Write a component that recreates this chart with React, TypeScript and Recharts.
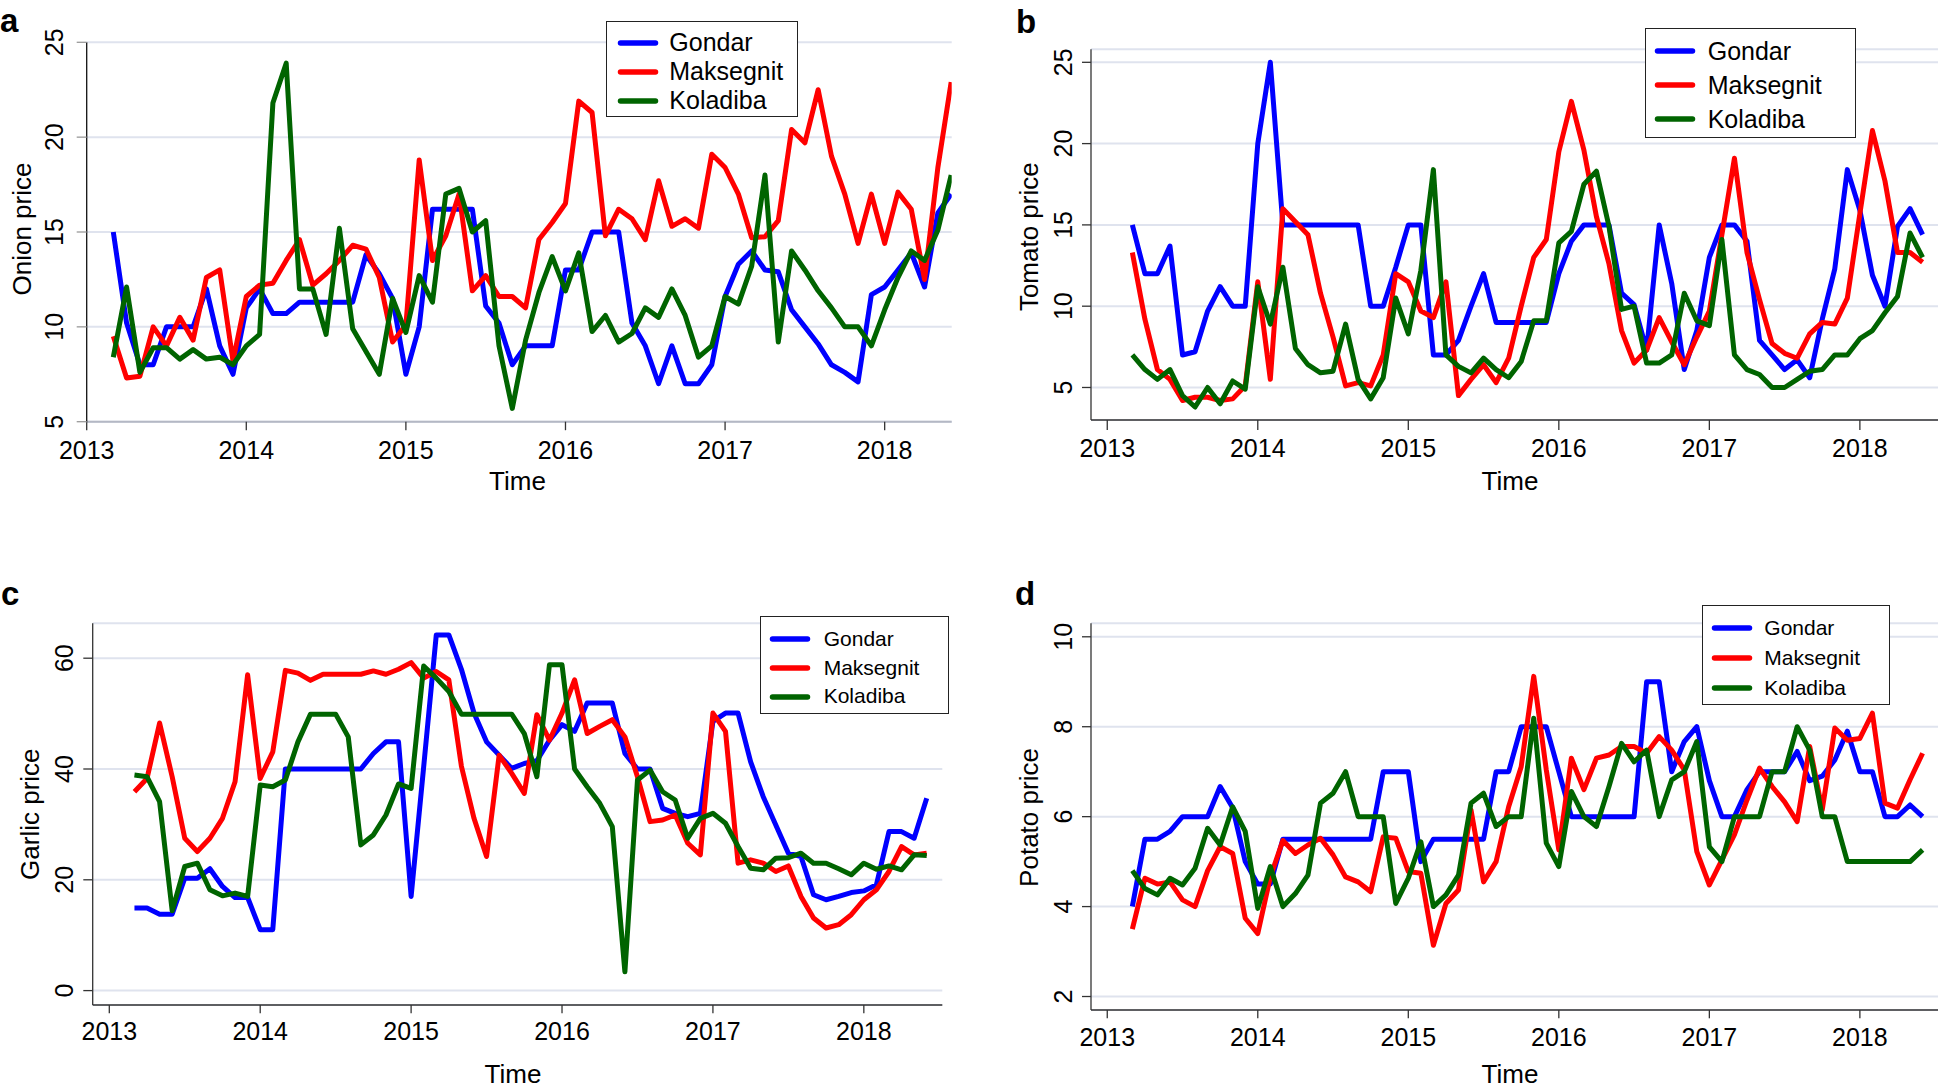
import React from 'react';
import { CartesianGrid, Legend, Line, LineChart, XAxis, YAxis } from 'recharts';

const FONT = '"Liberation Sans", Arial, Helvetica, sans-serif';
const BLUE = '#0000ff';
const RED = '#ff0000';
const GREEN = '#006400';
const GRID = '#dfe3ee';

// monthly observations, March 2013 .. June 2018
const MONTHS = Array.from({ length: 64 }, (_, i) => 2013 + (2 + i) / 12);
const YEAR_TICKS = [2013, 2014, 2015, 2016, 2017, 2018];

const SERIES = [
  { key: 'gondar', name: 'Gondar', color: BLUE },
  { key: 'maksegnit', name: 'Maksegnit', color: RED },
  { key: 'koladiba', name: 'Koladiba', color: GREEN },
];

// a: onion
const ONION_GONDAR = [
  15, 10.2, 8, 8, 10, 10, 10, 12, 9, 7.5, 11, 12, 10.7, 10.7, 11.3, 11.3, 11.3, 11.3, 11.3, 13.8,
  12.8, 11.5, 7.5, 10, 16.2, 16.2, 16.2, 16.2, 11.1, 10.2, 8, 9, 9, 9, 13, 13, 15, 15, 15, 10.2,
  9, 7, 9, 7, 7, 8, 11.6, 13.3, 14, 13, 12.9, 10.9, 10, 9.1, 8, 7.6, 7.1, 11.7, 12.1, 13,
  13.9, 12.1, 16, 17,
];
const ONION_MAKSEGNIT = [
  9.5, 7.3, 7.4, 10, 9, 10.5, 9.3, 12.6, 13, 8.2, 11.6, 12.2, 12.3, 13.5, 14.6, 12.2, 12.8, 13.5, 14.3, 14.1,
  12.6, 9.2, 10.1, 18.8, 13.5, 14.8, 17, 11.9, 12.7, 11.6, 11.6, 11, 14.6, 15.5, 16.5, 21.9, 21.3, 14.8, 16.2, 15.7,
  14.6, 17.7, 15.3, 15.7, 15.2, 19.1, 18.4, 17, 14.7, 14.75, 15.6, 20.4, 19.7, 22.5, 19, 17, 14.4, 17, 14.4, 17.1,
  16.2, 12.5, 18.4, 22.9,
];
const ONION_KOLADIBA = [
  8.4, 12.1, 7.6, 8.9, 8.9, 8.3, 8.8, 8.3, 8.4, 8, 9, 9.6, 21.8, 23.9, 12, 12, 9.6, 15.2, 9.9, 8.7,
  7.5, 11.5, 9.7, 12.7, 11.3, 17, 17.3, 15, 15.6, 9, 5.7, 9.3, 11.8, 13.7, 11.9, 13.9, 9.75, 10.6, 9.2, 9.65,
  11, 10.5, 12, 10.6, 8.4, 9, 11.6, 11.2, 13.2, 18, 9.2, 14, 13, 11.9, 11, 10, 10, 9, 10.9, 12.6,
  14, 13.5, 15.1, 18,
];

// b: tomato
const TOMATO_GONDAR = [
  15, 12, 12, 13.7, 7, 7.2, 9.7, 11.2, 10, 10, 20, 25, 15, 15, 15, 15, 15, 15, 15, 10,
  10, 12.4, 15, 15, 7, 7, 7.9, 10, 12, 9, 9, 9, 9, 9, 12, 14, 15, 15, 15, 10.8,
  10.1, 7.3, 15, 11.4, 6.1, 8.5, 13, 15, 15, 14, 7.9, 7, 6.1, 6.7, 5.6, 9.2, 12.3, 18.4, 15.9, 11.9,
  10, 14.9, 16, 14.4,
];
const TOMATO_MAKSEGNIT = [
  13.3, 9.2, 6.1, 5.5, 4.2, 4.4, 4.4, 4.2, 4.3, 5.1, 11.5, 5.5, 16, 15.2, 14.4, 10.8, 8.1, 5.1, 5.3, 5.1,
  7, 12, 11.5, 9.7, 9.3, 11.5, 4.5, 5.5, 6.4, 5.3, 6.8, 10, 13, 14.1, 19.5, 22.6, 19.6, 15.5, 12.6, 8.5,
  6.5, 7.3, 9.3, 7.8, 6.4, 8.1, 9.7, 14.4, 19.1, 13.3, 10.4, 7.7, 7.1, 6.8, 8.3, 9, 8.9, 10.5, 15.7, 20.8,
  17.7, 13.3, 13.3, 12.7,
];
const TOMATO_KOLADIBA = [
  7, 6.1, 5.5, 6.1, 4.5, 3.8, 5, 4, 5.4, 4.9, 11.2, 8.9, 12.4, 7.4, 6.4, 5.9, 6, 8.9, 5.5, 4.3,
  5.6, 10.5, 8.3, 12.2, 18.4, 7, 6.3, 5.9, 6.8, 6.1, 5.6, 6.6, 9.1, 9.1, 13.9, 14.6, 17.5, 18.3, 14.9, 9.8,
  10, 6.5, 6.5, 7, 10.8, 9.1, 8.8, 14.1, 7, 6.1, 5.8, 5, 5, 5.5, 6, 6.1, 7, 7, 8, 8.5,
  9.6, 10.6, 14.5, 13,
];

// c: garlic
const GARLIC_GONDAR = [
  14.9, 14.9, 13.8, 13.8, 20.3, 20.3, 22, 18.8, 16.8, 16.8, 11, 11, 40, 40, 40, 40, 40, 40, 40, 42.8,
  44.9, 44.9, 17, 40.4, 64.2, 64.2, 58, 50.1, 44.9, 42.5, 40.1, 41, 41.5, 45.2, 48, 46.8, 51.9, 51.9, 51.9, 42.8,
  40, 40, 32.9, 32, 31.4, 32, 48.6, 50.1, 50.1, 41.3, 35, 29.9, 24.8, 24.2, 17.3, 16.4, 17, 17.7, 18, 19.1,
  28.7, 28.7, 27.5, 34.7,
];
const GARLIC_MAKSEGNIT = [
  35.9, 38.3, 48.3, 38.6, 27.5, 25.1, 27.5, 31.1, 37.7, 57, 38.3, 43.1, 57.8, 57.3, 56, 57.1, 57.1, 57.1, 57.1, 57.7,
  57.1, 58, 59.2, 56.4, 57.6, 56.1, 40.5, 31.1, 24.2, 42.5, 39.2, 35.6, 49.8, 45.2, 50.1, 56.1, 46.4, 47.7, 48.9, 45.8,
  38.6, 30.5, 30.8, 31.7, 26.6, 24.5, 50.1, 46.8, 23, 23.6, 23, 21.5, 22.5, 17, 13.1, 11.3, 11.9, 13.7, 16.4, 18.2,
  21.5, 26, 24.5, 24.8,
];
const GARLIC_KOLADIBA = [
  38.9, 38.6, 34.1, 14.4, 22.4, 23, 18.2, 17.1, 17.6, 17, 37.1, 36.8, 38, 44.9, 49.9, 49.9, 49.9, 45.8, 26.3, 28.1,
  31.7, 37.3, 36.5, 58.6, 56.4, 54, 49.9, 49.9, 49.9, 49.9, 49.9, 46.4, 38.6, 58.8, 58.8, 40, 36.8, 33.8, 29.6, 3.4,
  38, 39.8, 35.9, 34.4, 27.5, 31.1, 32, 30.2, 26, 22.1, 21.8, 23.9, 24, 24.8, 23, 23, 22, 20.9, 23, 21.9,
  22.5, 21.8, 24.5, 24.4,
];

// d: potato
const POTATO_GONDAR = [
  4, 5.5, 5.5, 5.67, 6, 6, 6, 6.67, 6.2, 5, 4.5, 4.5, 5.5, 5.5, 5.5, 5.5, 5.5, 5.5, 5.5, 5.5,
  7, 7, 7, 5, 5.5, 5.5, 5.5, 5.5, 5.5, 7, 7, 8, 8, 8, 7, 6, 6, 6, 6, 6,
  6, 9, 9, 7, 7.67, 8, 6.8, 6, 6, 6.6, 7, 7, 7, 7.45, 6.8, 6.9, 7.26, 7.9, 7, 7,
  6, 6, 6.26, 6,
];
const POTATO_MAKSEGNIT = [
  3.5, 4.63, 4.5, 4.55, 4.15, 4, 4.8, 5.33, 5.18, 3.74, 3.4, 4.66, 5.47, 5.18, 5.37, 5.52, 5.15, 4.66, 4.55, 4.33,
  5.55, 5.52, 4.78, 4.74, 3.14, 4.07, 4.37, 6.15, 4.55, 5, 6.22, 7.11, 9.12, 7.04, 5.26, 7.3, 6.6, 7.3, 7.37, 7.56,
  7.56, 7.41, 7.78, 7.48, 7.04, 5.22, 4.48, 5.04, 5.6, 6.37, 7.08, 6.67, 6.33, 5.89, 7.56, 6.15, 7.97, 7.7, 7.74, 8.3,
  6.3, 6.19, 6.82, 7.41,
];
const POTATO_KOLADIBA = [
  4.8, 4.4, 4.26, 4.63, 4.48, 4.85, 5.74, 5.37, 6.22, 5.67, 3.96, 4.89, 4, 4.29, 4.7, 6.3, 6.52, 7, 6, 6,
  6, 4.07, 4.63, 5.44, 4, 4.26, 4.7, 6.3, 6.52, 5.78, 6, 6, 8.19, 5.41, 4.89, 6.56, 6, 5.78, 6.67, 7.63,
  7.22, 7.48, 6, 6.82, 7, 7.67, 5.33, 5, 6, 6, 6, 7, 7, 8, 7.48, 6, 6, 5, 5, 5,
  5, 5, 5, 5.26,
];

const rows = (g: number[], m: number[], k: number[]) =>
  MONTHS.map((t, i) => ({ t, gondar: g[i], maksegnit: m[i], koladiba: k[i] }));

const VerticalTick = (props: any) => {
  const { x, y, payload, fontSize } = props;
  return (
    <text
      x={x}
      y={y}
      transform={`rotate(-90 ${x} ${y})`}
      textAnchor="middle"
      fontSize={fontSize}
      fontFamily={FONT}
      fill="#000"
    >
      {payload.value}
    </text>
  );
};

// axis title; own coordinate names so Recharts' label props don't override them
const Title = ({ tx, ty, text, vertical }: { tx: number; ty: number; text: string; vertical?: boolean }) => (
  <text
    x={tx}
    y={ty}
    transform={vertical ? `rotate(-90 ${tx} ${ty})` : undefined}
    textAnchor="middle"
    fontSize={26}
    fontFamily={FONT}
    fill="#000"
  >
    {text}
  </text>
);

const LegendBox = ({ spec }: { spec: any }) => (
  <div
    style={{
      boxSizing: 'border-box',
      width: spec.w,
      height: spec.h,
      border: '1.5px solid #222',
      background: '#fff',
      paddingTop: spec.padTop,
      position: 'relative',
    }}
  >
    {SERIES.map((s) => (
      <div key={s.key} style={{ height: spec.row, position: 'relative' }}>
        <svg
          width={42}
          height={10}
          style={{ position: 'absolute', left: spec.lineLeft - 1, top: spec.row / 2 - 5 }}
        >
          <line x1={3.5} y1={5} x2={38.5} y2={5} stroke={s.color} strokeWidth={5.5} strokeLinecap="round" />
        </svg>
        <span
          style={{
            position: 'absolute',
            left: spec.textLeft,
            top: 0,
            lineHeight: `${spec.row}px`,
            fontSize: spec.fontSize,
            fontFamily: FONT,
            color: '#000',
            whiteSpace: 'nowrap',
          }}
        >
          {s.name}
        </span>
      </div>
    ))}
  </div>
);

function Panel({ p }: { p: any }) {
  const data = rows(p.g, p.m, p.k);
  return (
    <div style={{ position: 'absolute', left: p.left, top: p.top, width: p.width, height: p.height }}>
      <LineChart width={p.width} height={p.height} data={data} margin={p.margin}>
        <CartesianGrid horizontal vertical={false} stroke={GRID} strokeWidth={2} />
        <XAxis
          dataKey="t"
          type="number"
          domain={p.xDomain}
          allowDataOverflow
          ticks={YEAR_TICKS}
          interval={0}
          height={p.xAxisHeight}
          tickSize={p.xTickSize}
          tickMargin={p.xTickMargin}
          axisLine={{ stroke: p.xAxisColor, strokeWidth: p.xAxisWidth }}
          tickLine={{ stroke: '#333', strokeWidth: 1.3 }}
          tick={{ fill: '#000', fontSize: 25, fontFamily: FONT }}
          label={<Title tx={p.xTitle[0]} ty={p.xTitle[1]} text="Time" />}
        />
        <YAxis
          type="number"
          domain={p.yDomain}
          allowDataOverflow
          ticks={p.yTicks}
          interval={0}
          width={p.yAxisWidth}
          tickSize={p.yTickSize}
          tickMargin={p.yTickMargin}
          axisLine={{ stroke: p.yAxisColor, strokeWidth: 1.3 }}
          tickLine={{ stroke: p.yTickColor, strokeWidth: 1.3 }}
          tick={<VerticalTick fontSize={25} />}
          label={<Title tx={p.yTitle[0]} ty={p.yTitle[1]} text={p.yLabel} vertical />}
        />
        <Legend
          layout="vertical"
          align="center"
          verticalAlign="middle"
          wrapperStyle={{ left: p.legend.left, top: p.legend.top, width: p.legend.w, height: p.legend.h }}
          content={() => <LegendBox spec={p.legend} />}
        />
        {SERIES.map((s) => (
          <Line
            key={s.key}
            type="linear"
            dataKey={s.key}
            name={s.name}
            stroke={s.color}
            strokeWidth={5}
            strokeLinejoin="round"
            dot={false}
            activeDot={false}
            isAnimationActive={false}
          />
        ))}
      </LineChart>
    </div>
  );
}

const PANELS = [
  {
    letter: 'a', letterX: 0, letterY: 32,
    g: ONION_GONDAR, m: ONION_MAKSEGNIT, k: ONION_KOLADIBA, yLabel: 'Onion price',
    left: 0, top: 0, width: 965, height: 500,
    margin: { top: 42.3, right: 13.3, bottom: 0, left: 0 },
    yAxisWidth: 86.7, xAxisHeight: 78.3,
    xDomain: [2013, 2018.42], yDomain: [5, 25], yTicks: [5, 10, 15, 20, 25],
    xTickSize: 8.5, xTickMargin: 11.5, yTickSize: 10, yTickMargin: 13.4,
    xAxisColor: '#b4b8c4', xAxisWidth: 2, yAxisColor: '#111', yTickColor: '#999',
    xTitle: [517.5, 490], yTitle: [31, 229],
    legend: { left: 606, top: 20.7, w: 192.3, h: 96, row: 29, padTop: 6.5, lineLeft: 10.7, textLeft: 62.3, fontSize: 25 },
  },
  {
    letter: 'b', letterX: 1016, letterY: 33.3,
    g: TOMATO_GONDAR, m: TOMATO_MAKSEGNIT, k: TOMATO_KOLADIBA, yLabel: 'Tomato price',
    left: 975, top: 0, width: 965, height: 500,
    margin: { top: 49.3, right: 2, bottom: 0, left: 0 },
    yAxisWidth: 116, xAxisHeight: 80,
    xDomain: [2012.892, 2018.519], yDomain: [3, 25.8], yTicks: [5, 10, 15, 20, 25],
    xTickSize: 10, xTickMargin: 9.3, yTickSize: 9, yTickMargin: 10.3,
    xAxisColor: '#333', xAxisWidth: 1.3, yAxisColor: '#333', yTickColor: '#333',
    xTitle: [535, 490], yTitle: [63, 236.7],
    legend: { left: 670, top: 27.7, w: 211, h: 110.6, row: 34, padTop: 5.3, lineLeft: 9.3, textLeft: 61.7, fontSize: 25 },
  },
  {
    letter: 'c', letterX: 1, letterY: 605,
    g: GARLIC_GONDAR, m: GARLIC_MAKSEGNIT, k: GARLIC_KOLADIBA, yLabel: 'Garlic price',
    left: 0, top: 570, width: 965, height: 521,
    margin: { top: 53.3, right: 22.7, bottom: 0, left: 0 },
    yAxisWidth: 92.7, xAxisHeight: 86,
    xDomain: [2012.89, 2018.52], yDomain: [-2.6, 66.3], yTicks: [0, 20, 40, 60],
    xTickSize: 8.3, xTickMargin: 9.4, yTickSize: 9.4, yTickMargin: 10,
    xAxisColor: '#333', xAxisWidth: 1.3, yAxisColor: '#333', yTickColor: '#333',
    xTitle: [513, 513], yTitle: [39, 244.2],
    legend: { left: 760, top: 45.7, w: 189.3, h: 98.6, row: 28.7, padTop: 8.3, lineLeft: 9.3, textLeft: 62.7, fontSize: 21 },
  },
  {
    letter: 'd', letterX: 1015, letterY: 605,
    g: POTATO_GONDAR, m: POTATO_MAKSEGNIT, k: POTATO_KOLADIBA, yLabel: 'Potato price',
    left: 975, top: 570, width: 965, height: 521,
    margin: { top: 53.3, right: 2, bottom: 0, left: 0 },
    yAxisWidth: 116, xAxisHeight: 81,
    xDomain: [2012.892, 2018.519], yDomain: [1.7, 10.3], yTicks: [2, 4, 6, 8, 10],
    xTickSize: 8.3, xTickMargin: 10, yTickSize: 9, yTickMargin: 10.3,
    xAxisColor: '#333', xAxisWidth: 1.3, yAxisColor: '#333', yTickColor: '#333',
    xTitle: [535, 513], yTitle: [63, 247.5],
    legend: { left: 727.3, top: 35.3, w: 187.4, h: 99.4, row: 30, padTop: 6.4, lineLeft: 8.7, textLeft: 61, fontSize: 21 },
  },
];

export default function App() {
  return (
    <div
      style={{
        position: 'absolute',
        left: 0,
        top: 0,
        width: 1940,
        height: 1091,
        background: '#fff',
        overflow: 'hidden',
      }}
    >
      {PANELS.map((p) => (
        <Panel key={p.letter} p={p} />
      ))}
      <svg width={1940} height={1091} style={{ position: 'absolute', left: 0, top: 0, pointerEvents: 'none' }}>
        {PANELS.map((p) => (
          <text key={p.letter} x={p.letterX} y={p.letterY} fontSize={33} fontWeight="bold" fontFamily={FONT} fill="#000">
            {p.letter}
          </text>
        ))}
      </svg>
    </div>
  );
}
